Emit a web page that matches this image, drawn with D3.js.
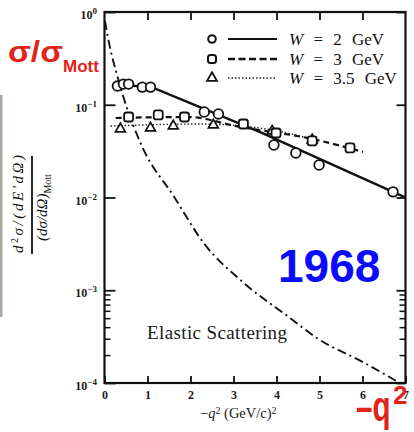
<!DOCTYPE html>
<html lang="en">
<head>
<meta charset="UTF-8">
<title>sigma / sigma Mott vs -q2, 1968</title>
<script src="https://d3js.org/d3.v7.min.js"></script>
<style>
  body { margin: 0; background: #fff; }
  svg { display: block; }
  .tick text { font-family: "Liberation Serif", serif; font-weight: bold; fill: #1a1a1a; }
</style>
</head>
<body>
<svg id="chart"></svg>
<script>
// values
const qTicks = [0, 1, 2, 3, 4, 5, 6, 7];
const yDecades = [1e0, 1e-1, 1e-2, 1e-3, 1e-4];
const yExponents = ["0", "\u22121", "\u22122", "\u22123", "\u22124"];

// measured points
const w2Q = [0.30, 0.44, 0.56, 0.88, 1.07, 2.32, 2.65, 3.94, 4.45, 4.99, 6.71];
const w2V = [0.159, 0.167, 0.167, 0.155, 0.155, 0.0835, 0.0796, 0.0368, 0.0302, 0.0224, 0.0115];
const w3Q = [0.56, 1.25, 1.86, 3.23, 3.99, 4.83, 5.71];
const w3V = [0.0738, 0.0776, 0.0738, 0.062, 0.0496, 0.0407, 0.0342];
const w35Q = [0.37, 1.07, 1.60, 2.53, 3.90, 4.83];
const w35V = [0.0548, 0.0561, 0.059, 0.0605, 0.0521, 0.0417];

// curves drawn through them
const w2FitQ = [0.21, 1.07, 3.62, 6.98];
const w2FitV = [0.163, 0.157, 0.0508, 0.0101];
const w3FitQ = [0.26, 1.93, 3.16, 4.83, 6.01];
const w3FitV = [0.072, 0.0738, 0.0575, 0.0428, 0.031];
const w35FitQ = [0.14, 2.23, 3.62, 4.90];
const w35FitV = [0.059, 0.062, 0.056, 0.0417];

// elastic scattering
const elasticQ = [0.01, 0.14, 0.28, 0.44, 0.88, 1.60, 2.34, 3.16, 4.32, 4.94, 6.01, 6.87];
const elasticV = [0.8, 0.39, 0.22, 0.121, 0.035, 0.0105, 0.00308, 0.00129, 0.0005, 0.000305, 0.000168, 0.0001];

const legendLabels = ["2", "3", "3.5"];

const width = 414, height = 432;
const svg = d3.select("#chart").attr("width", width).attr("height", height);

const x = d3.scaleLinear().domain([0, 7]).range([104.5, 405.5]);
const y = d3.scaleLog().domain([1e-4, 1]).range([383, 12]);

// scan artefact at the left edge
svg.append("rect").attr("x", 0).attr("y", 95).attr("width", 2.5).attr("height", 222).attr("fill", "#a8a89e");

// frame
svg.append("rect")
  .attr("x", x(0)).attr("y", y(1))
  .attr("width", x(7) - x(0)).attr("height", y(1e-4) - y(1))
  .attr("fill", "none").attr("stroke", "#111").attr("stroke-width", 2.2);

// bottom axis
const xAxis = svg.append("g")
  .attr("transform", `translate(0,${y(1e-4)})`)
  .call(d3.axisBottom(x).tickValues(qTicks).tickSize(-7).tickPadding(7).tickFormat(d3.format("d")));
xAxis.select(".domain").remove();
xAxis.selectAll("line").attr("stroke", "#111").attr("stroke-width", 1.8);
xAxis.selectAll("text").attr("font-size", 12);

// top axis
const xTop = svg.append("g")
  .attr("transform", `translate(0,${y(1)})`)
  .call(d3.axisTop(x).tickValues(qTicks.slice(1, 7)).tickSize(-8).tickFormat(""));
xTop.select(".domain").remove();
xTop.selectAll("line").attr("stroke", "#111").attr("stroke-width", 1.8);

// log minor ticks in the last decade
const minors = d3.range(2, 10).map(k => k * 1e-4);

const yLeft = svg.append("g")
  .attr("transform", `translate(${x(0)},0)`)
  .call(d3.axisLeft(y).tickValues(yDecades).tickSize(-11).tickFormat(""));
yLeft.select(".domain").remove();
yLeft.selectAll("line").attr("stroke", "#111").attr("stroke-width", 1.8);

const yLeftMinor = svg.append("g")
  .attr("transform", `translate(${x(0)},0)`)
  .call(d3.axisLeft(y).tickValues(minors).tickSize(-6).tickFormat(""));
yLeftMinor.select(".domain").remove();
yLeftMinor.selectAll("line").attr("stroke", "#111").attr("stroke-width", 1.5);

const yRight = svg.append("g")
  .attr("transform", `translate(${x(7)},0)`)
  .call(d3.axisRight(y).tickValues(yDecades).tickSize(-9).tickFormat(""));
yRight.select(".domain").remove();
yRight.selectAll("line").attr("stroke", "#111").attr("stroke-width", 1.8);

const yRightMinor = svg.append("g")
  .attr("transform", `translate(${x(7)},0)`)
  .call(d3.axisRight(y).tickValues(minors).tickSize(-6).tickFormat(""));
yRightMinor.select(".domain").remove();
yRightMinor.selectAll("line").attr("stroke", "#111").attr("stroke-width", 1.5);

// y tick labels 10^n
yDecades.forEach((d, i) => {
  const t = svg.append("text")
    .attr("x", 97).attr("y", y(d) + 7)
    .attr("text-anchor", "end")
    .attr("font-family", "Liberation Serif, serif")
    .attr("font-weight", "bold")
    .attr("font-size", 12)
    .attr("fill", "#1a1a1a");
  t.append("tspan").text("10");
  t.append("tspan").attr("dy", -5).attr("font-size", 9).text(yExponents[i]);
});

// curves
const smooth = d3.line().x(d => x(d[0])).y(d => y(d[1])).curve(d3.curveMonotoneX);
const straight = d3.line().x(d => x(d[0])).y(d => y(d[1]));
const zip = (a, b) => a.map((v, i) => [v, b[i]]);

svg.append("path").datum(zip(elasticQ, elasticV))
  .attr("d", smooth).attr("fill", "none").attr("stroke", "#111")
  .attr("stroke-width", 1.9).attr("stroke-dasharray", "9,4,2,4");

svg.append("path").datum(zip(w35FitQ, w35FitV))
  .attr("d", smooth).attr("fill", "none").attr("stroke", "#222")
  .attr("stroke-width", 1.4).attr("stroke-dasharray", "1.5,2");

svg.append("path").datum(zip(w3FitQ, w3FitV))
  .attr("d", smooth).attr("fill", "none").attr("stroke", "#111")
  .attr("stroke-width", 2.2).attr("stroke-dasharray", "6,4");

svg.append("path").datum(zip(w2FitQ, w2FitV))
  .attr("d", straight).attr("fill", "none").attr("stroke", "#111")
  .attr("stroke-width", 2.4);

// markers
const tri = d3.symbol().type(d3.symbolTriangle).size(42);

svg.selectAll(".w35").data(zip(w35Q, w35V)).enter().append("path")
  .attr("class", "w35")
  .attr("transform", d => `translate(${x(d[0])},${y(d[1])})`)
  .attr("d", tri).attr("fill", "#fff").attr("stroke", "#111").attr("stroke-width", 1.7);

svg.selectAll(".w3").data(zip(w3Q, w3V)).enter().append("rect")
  .attr("class", "w3")
  .attr("x", d => x(d[0]) - 4.5).attr("y", d => y(d[1]) - 4.5)
  .attr("width", 9).attr("height", 9).attr("rx", 2.5)
  .attr("fill", "#fff").attr("stroke", "#111").attr("stroke-width", 1.8);

svg.selectAll(".w2").data(zip(w2Q, w2V)).enter().append("circle")
  .attr("class", "w2")
  .attr("cx", d => x(d[0])).attr("cy", d => y(d[1])).attr("r", 4.8)
  .attr("fill", "#fff").attr("stroke", "#111").attr("stroke-width", 1.8);

// legend
const legY = [39, 59, 78];
const leg = svg.append("g");
leg.append("circle").attr("cx", 212).attr("cy", legY[0]).attr("r", 3.8)
  .attr("fill", "#fff").attr("stroke", "#111").attr("stroke-width", 2);
leg.append("rect").attr("x", 208).attr("y", legY[1] - 4).attr("width", 8).attr("height", 8).attr("rx", 2.5)
  .attr("fill", "#fff").attr("stroke", "#111").attr("stroke-width", 2);
leg.append("path").attr("transform", `translate(212,${legY[2]})`).attr("d", tri)
  .attr("fill", "#fff").attr("stroke", "#111").attr("stroke-width", 1.8);

leg.append("line").attr("x1", 228).attr("x2", 277).attr("y1", legY[0]).attr("y2", legY[0])
  .attr("stroke", "#111").attr("stroke-width", 2.2);
leg.append("line").attr("x1", 228).attr("x2", 277).attr("y1", legY[1]).attr("y2", legY[1])
  .attr("stroke", "#111").attr("stroke-width", 2.4).attr("stroke-dasharray", "7,3.5");
leg.append("line").attr("x1", 228).attr("x2", 277).attr("y1", legY[2]).attr("y2", legY[2])
  .attr("stroke", "#222").attr("stroke-width", 1.4).attr("stroke-dasharray", "1.5,2");

legendLabels.forEach((lab, i) => {
  const t = leg.append("text")
    .attr("x", 289).attr("y", legY[i] + 5.5)
    .attr("font-family", "Liberation Serif, serif")
    .attr("font-size", 17).attr("word-spacing", 6)
    .attr("fill", "#111");
  t.append("tspan").attr("font-style", "italic").text("W");
  t.append("tspan").text(` = ${lab} GeV`);
});

// Elastic Scattering
svg.append("text").attr("x", 147).attr("y", 339)
  .attr("font-family", "Liberation Serif, serif").attr("font-size", 19)
  .attr("textLength", 140).attr("lengthAdjust", "spacing")
  .attr("fill", "#1a1a1a").text("Elastic Scattering");

// x-axis title
const xt = svg.append("text").attr("x", 200).attr("y", 418)
  .attr("font-family", "Liberation Serif, serif").attr("font-size", 14.5).attr("fill", "#1a1a1a");
xt.append("tspan").text("\u2212");
xt.append("tspan").attr("font-style", "italic").text("q");
xt.append("tspan").attr("dy", -4).attr("font-size", 10).text("2");
xt.append("tspan").attr("dy", 4).text("  (GeV/c)");
xt.append("tspan").attr("dy", -4).attr("font-size", 10).text("2");

// y-axis title, a fraction written sideways
const yt = svg.append("g").attr("transform", "translate(32,205) rotate(-90)");
yt.append("line").attr("x1", -49).attr("x2", 49).attr("y1", 0).attr("y2", 0)
  .attr("stroke", "#111").attr("stroke-width", 1.8);
const num = yt.append("text").attr("x", -48).attr("y", -9)
  .attr("textLength", 98).attr("lengthAdjust", "spacing")
  .attr("font-family", "Liberation Serif, serif").attr("font-size", 15).attr("fill", "#111");
num.append("tspan").attr("font-style", "italic").text("d");
num.append("tspan").attr("dy", -5).attr("font-size", 10).text("2");
num.append("tspan").attr("dy", 5).attr("font-style", "italic").text("\u03c3/(dE\u2032d\u03a9)");
const den = yt.append("text").attr("x", -36).attr("y", 15)
  .attr("font-family", "Liberation Serif, serif").attr("font-size", 15).attr("fill", "#111");
den.append("tspan").attr("font-style", "italic").text("(d\u03c3/d\u03a9)");
den.append("tspan").attr("dy", 4).attr("font-size", 10).text("Mott");

// slide annotations
const sig = svg.append("text").attr("x", 8).attr("y", 62)
  .attr("font-family", "Liberation Sans, Arial, sans-serif").attr("font-weight", "bold")
  .attr("fill", "#e2231a");
sig.append("tspan").attr("font-size", 30).attr("textLength", 55).attr("lengthAdjust", "spacingAndGlyphs").text("\u03c3/\u03c3");
sig.append("tspan").attr("font-size", 17).attr("dy", 10).text("Mott");

svg.append("text").attr("x", 278).attr("y", 282)
  .attr("font-family", "Liberation Sans, Arial, sans-serif").attr("font-weight", "bold")
  .attr("font-size", 46).attr("fill", "#0a0aff").text("1968");

svg.append("text").attr("transform", "translate(356,421) scale(0.74,1.08)")
  .attr("font-family", "Liberation Sans, Arial, sans-serif").attr("font-weight", "bold")
  .attr("font-size", 40).attr("fill", "#e2231a").text("\u2013q");
svg.append("text").attr("x", 393).attr("y", 404)
  .attr("font-family", "Liberation Sans, Arial, sans-serif").attr("font-weight", "bold")
  .attr("font-size", 26).attr("fill", "#e2231a").text("2");
</script>
</body>
</html>
